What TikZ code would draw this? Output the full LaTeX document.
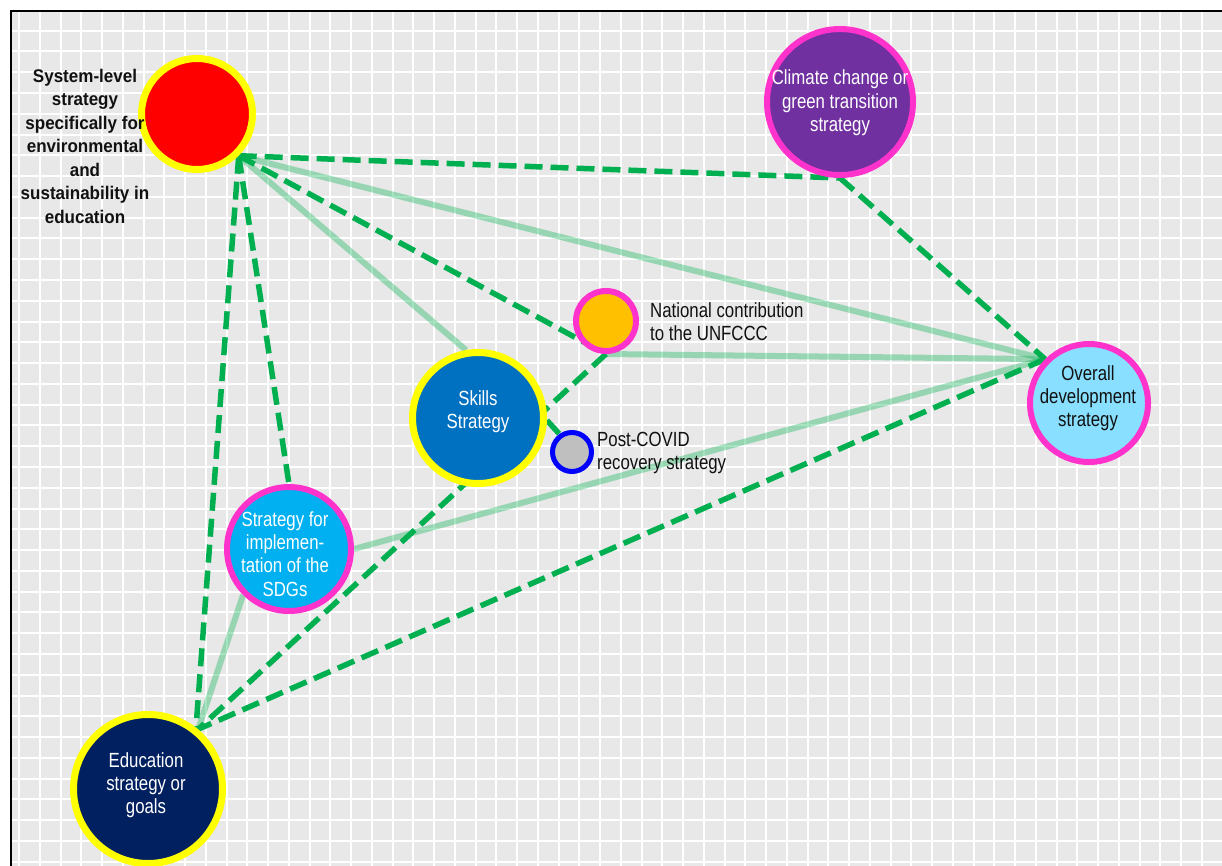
\documentclass[tikz,border=0pt]{standalone}
\usepackage{fontspec}
\setmainfont{Liberation Sans}
\newfontfamily\narrowsans{Liberation Sans}[FakeStretch=0.82]
\newfontfamily\widesans{Liberation Sans}[FakeStretch=0.93]

\definecolor{panel}{HTML}{E8E8E8}
\definecolor{linkgreen}{HTML}{00B050}
\definecolor{ringyellow}{HTML}{FFFF00}
\definecolor{ringpink}{HTML}{FF33CC}
\definecolor{ringblue}{HTML}{0000FF}
\definecolor{fillred}{HTML}{FF0000}
\definecolor{fillpurple}{HTML}{7030A0}
\definecolor{fillorange}{HTML}{FFC000}
\definecolor{fillblue}{HTML}{0070C0}
\definecolor{fillgrey}{HTML}{BFBFBF}
\definecolor{fillsky}{HTML}{88DFFF}
\definecolor{fillcyan}{HTML}{00B0F0}
\definecolor{fillnavy}{HTML}{002060}
\definecolor{ink}{HTML}{111111}

\pgfdeclarelayer{panel}
\pgfdeclarelayer{links}
\pgfsetlayers{panel,links,main}

\begin{document}
\begin{tikzpicture}[x=1pt,y=-1pt,
  bubble/.style n args={4}{circle, draw=#1, fill=#2, line width=#3, minimum size=#4, inner sep=0pt},
  intext/.style={align=center, inner sep=0pt, text=#1, font={\narrowsans\fontsize{20.5}{23.3}\selectfont}},
  sidetext/.style={align=left, anchor=west, inner sep=0pt, text=ink, font={\narrowsans\fontsize{20.5}{23}\selectfont}},
  gridline/.style={white, line width=2pt},
  dashlink/.style={draw=linkgreen, line width=5.5pt, dash pattern=on 18pt off 8pt},
  softlink/.style={draw=linkgreen, draw opacity=0.35, line width=6pt}
]
\useasboundingbox (0,0) rectangle (1222,866);

% background panel with white grid
\begin{pgfonlayer}{panel}
\fill[panel] (11,11) rectangle (1222,866);
\begin{scope}
  \clip (11,11) rectangle (1222,866);
  \foreach \i in {0,...,58} {
    \pgfmathsetmacro{\gx}{19+20.75*\i}
    \draw[gridline] (\gx,11) -- (\gx,866);
  }
  \foreach \j in {0,...,40} {
    \pgfmathsetmacro{\gy}{30.7+20.775*\j}
    \draw[gridline] (11,\gy) -- (1222,\gy);
  }
\end{scope}
\draw[black, line width=2pt] (11,866) -- (11,11) -- (1222,11);
\end{pgfonlayer}

% strategy bubbles
\node[bubble={ringyellow}{fillred}{7pt}{111pt}]    (sys)     at (197,114) {};
\node[bubble={ringpink}{fillpurple}{6pt}{146pt}]   (climate) at (840,102) {};
\node[bubble={ringpink}{fillorange}{6pt}{60pt}]    (ndc)     at (606,321) {};
\node[bubble={ringyellow}{fillblue}{7pt}{131pt}]   (skills)  at (478,418) {};
\node[bubble={ringblue}{fillgrey}{5pt}{39pt}]      (covid)   at (572,452) {};
\node[bubble={ringpink}{fillsky}{6pt}{118pt}]      (overall) at (1089,403) {};
\node[bubble={ringpink}{fillcyan}{6pt}{124pt}]     (sdgs)    at (289,549) {};
\node[bubble={ringyellow}{fillnavy}{7pt}{149pt}]   (edu)     at (148,789) {};

% links between strategies, kept beneath the bubbles
\begin{pgfonlayer}{links}
\draw[softlink] (sys.south east) -- (overall.north west);
\draw[softlink] (sys.south east) -- (skills.100);
\draw[softlink] (ndc.south) -- (overall.north west);
\draw[softlink] (sdgs.east) -- (overall.north west);
\draw[softlink] (sdgs.south west) -- (edu.50);

\draw[dashlink] (sys.south east) -- (climate.south);
\draw[dashlink] (sys.south east) -- (ndc.south);
\draw[dashlink] (sys.south east) -- (edu.52);
\draw[dashlink] (sys.south east) -- (sdgs.north);
\draw[dashlink] (climate.south) -- (overall.north west);
\draw[dashlink] (overall.north west) -- (edu.50);
\draw[dashlink] (ndc.south) -- (edu.50);
\draw[dashlink] (skills.-2) -- (covid.125);
\end{pgfonlayer}

% bubble labels
\node[intext=white] (climatetxt) at (840,103) {Climate change or\\green transition\\strategy};
\node[intext=white] (skillstxt)  at (478,412) {Skills\\Strategy};
\node[intext=ink]   (overalltxt) at (1088,398) {Overall\\development\\strategy};
\node[intext=white] (sdgstxt)    at (285,554) {Strategy for\\implemen-\\tation of the\\SDGs};
\node[intext=white] (edutxt)     at (146,785) {Education\\strategy or\\goals};

\node[sidetext] (ndctxt)   at (650,321.5) {National contribution\\to the UNFCCC};
\node[sidetext] (covidtxt) at (597,452.5) {Post-COVID\\recovery strategy};
\node[align=center, inner sep=0pt, text=ink, font={\widesans\bfseries\fontsize{18.3}{23.5}\selectfont}]
  (systxt) at (85,146) {System-level\\strategy\\specifically for\\environmental\\and\\sustainability in\\education};
\end{tikzpicture}
\end{document}
